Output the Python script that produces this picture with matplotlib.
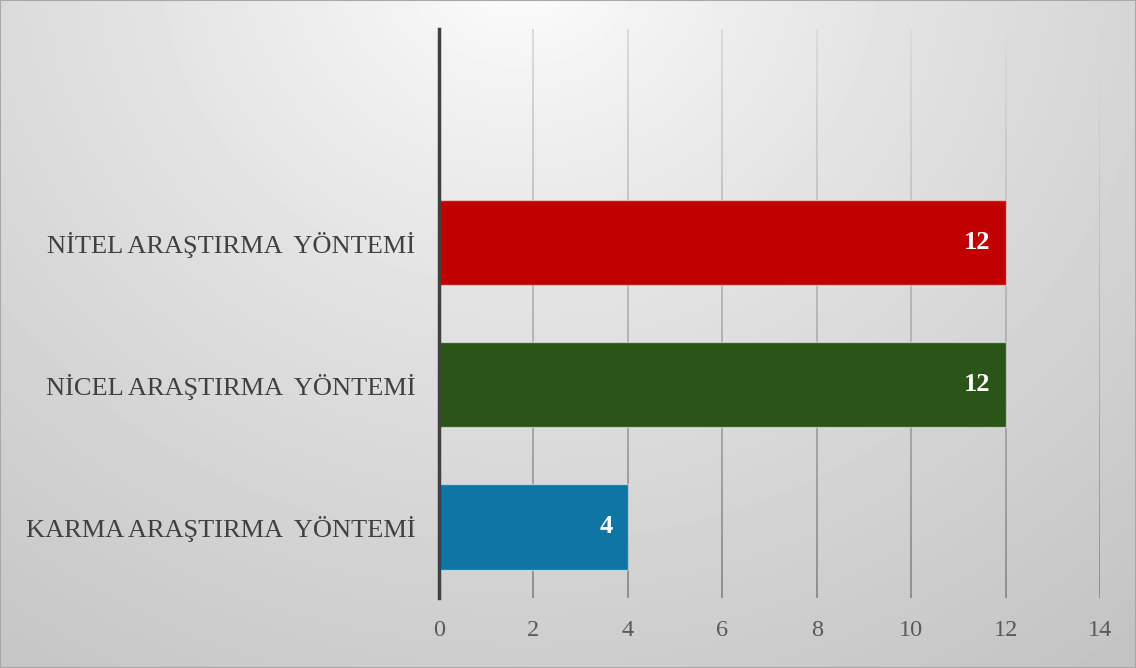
import numpy as np
import matplotlib
matplotlib.use('Agg')
import matplotlib.pyplot as plt
from matplotlib.collections import LineCollection
from matplotlib.patches import Rectangle

# Data
kategorie = ['KARMA ARAŞTIRMA  YÖNTEMİ', 'NİCEL ARAŞTIRMA  YÖNTEMİ', 'NİTEL ARAŞTIRMA  YÖNTEMİ']
hodnoty = [4, 12, 12]
barvy = ['#0F76A3', '#2A5418', '#C00000']
x_ticks = [0, 2, 4, 6, 8, 10, 12, 14]

plt.rcParams['font.family'] = ['Liberation Serif', 'DejaVu Serif']

W, H = 1136, 668
fig = plt.figure(figsize=(W / 100, H / 100), dpi=100)

# Radial gradient pozadi
bg = fig.add_axes([0, 0, 1, 1], zorder=-10)
yy, xx = np.mgrid[0:H, 0:W]
d = np.sqrt((xx - 520.0) ** 2 + ((yy + 40.0) * 1.1) ** 2)
v = 1.0 - 0.23 * np.clip(d / 950.0, 0, 1.2) ** 0.8
bg.imshow(v, cmap='gray', vmin=0, vmax=1, aspect='auto', interpolation='bilinear')
bg.axis('off')

ax = fig.add_axes([439 / W, 1 - 598 / H, (1100 - 439) / W, (598 - 29) / H])
ax.set_facecolor('none')

y_pos = np.arange(len(kategorie))
bars = ax.barh(y_pos, hodnoty, height=0.6, color=barvy,
               edgecolor=(1, 1, 1, 0.5), linewidth=1, zorder=3)

ax.set_xlim(0, 14)
ax.set_ylim(-0.5, 3.5)
ax.set_xticks(x_ticks)
ax.set_yticks(y_pos)
ax.set_yticklabels(kategorie)

# Gridlines s prechodem barvy (svetle nahore, tmavsi dole)
n = 80
ys = np.linspace(0, 1, n + 1)
c_top = np.array([0.86, 0.86, 0.86])
c_bot = np.array([0.56, 0.56, 0.56])
for xt in x_ticks[1:]:
    segs = [[(xt, ys[i]), (xt, ys[i + 1])] for i in range(n)]
    cols = [tuple(c_bot + (c_top - c_bot) * ((ys[i] + ys[i + 1]) / 2)) for i in range(n)]
    lc = LineCollection(segs, colors=cols, linewidths=1.4,
                        transform=ax.get_xaxis_transform(), zorder=1)
    ax.add_collection(lc)

for s in ['top', 'right', 'bottom']:
    ax.spines[s].set_visible(False)
ax.spines['left'].set_color('#404040')
ax.spines['left'].set_linewidth(2.5)
ax.spines['left'].set_zorder(4)

ax.tick_params(axis='x', length=0, pad=16, labelsize=17.5, labelcolor='#595959')
ax.tick_params(axis='y', length=0, pad=17, labelsize=19, labelcolor='#404040')

# Hodnoty ve sloupcich
for rect, val in zip(bars, hodnoty):
    ax.annotate('%d' % val, (rect.get_width(), rect.get_y() + rect.get_height() / 2),
                xytext=(-11, 0), textcoords='offset points', ha='right', va='center',
                color='white', fontsize=19, fontweight='bold', zorder=5)

# Ramecek kolem obrazku
fig.patches.append(Rectangle((0, 0), 1, 1, transform=fig.transFigure, fill=False,
                             edgecolor='#a8a8a8', linewidth=1.5))

fig.savefig('out.png', dpi=100)
